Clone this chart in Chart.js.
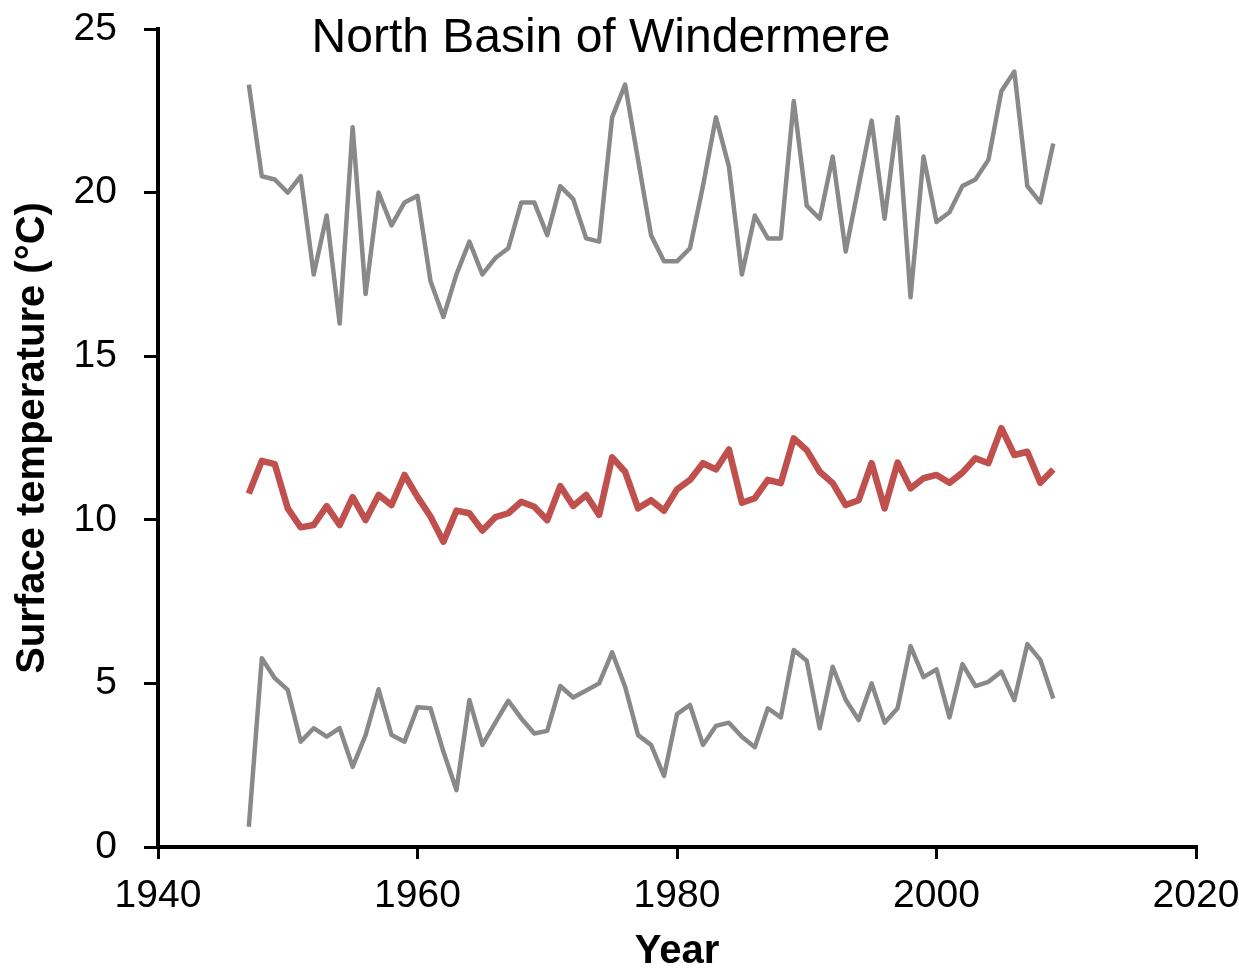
<!DOCTYPE html>
<html>
<head>
<meta charset="utf-8">
<script src="https://cdn.jsdelivr.net/npm/chart.js@4.4.1/dist/chart.umd.min.js"></script>
<style>
  html, body { margin: 0; padding: 0; background: #fff; }
  canvas { display: block; }
</style>
</head>
<body>
<canvas id="chart" width="1239" height="972"></canvas>
<script>
const years = [
  1947, 1948, 1949, 1950, 1951, 1952, 1953, 1954, 1955, 1956,
  1957, 1958, 1959, 1960, 1961, 1962, 1963, 1964, 1965, 1966,
  1967, 1968, 1969, 1970, 1971, 1972, 1973, 1974, 1975, 1976,
  1977, 1978, 1979, 1980, 1981, 1982, 1983, 1984, 1985, 1986,
  1987, 1988, 1989, 1990, 1991, 1992, 1993, 1994, 1995, 1996,
  1997, 1998, 1999, 2000, 2001, 2002, 2003, 2004, 2005, 2006,
  2007, 2008, 2009,
];

// annual maximum, mean and minimum surface temperature (°C)
const maxTemp = [
  23.3, 20.5, 20.4, 20.0, 20.5, 17.5, 19.3, 16.0, 22.0, 16.9,
  20.0, 19.0, 19.7, 19.9, 17.3, 16.2, 17.5, 18.5, 17.5, 18.0,
  18.3, 19.7, 19.7, 18.7, 20.2, 19.8, 18.6, 18.5, 22.3, 23.3,
  21.0, 18.7, 17.9, 17.9, 18.3, 20.2, 22.3, 20.8, 17.5, 19.3,
  18.6, 18.6, 22.8, 19.6, 19.2, 21.1, 18.2, 20.2, 22.2, 19.2,
  22.3, 16.8, 21.1, 19.1, 19.4, 20.2, 20.4, 21.0, 23.1, 23.7,
  20.2, 19.7, 21.5,
];
const meanTemp = [
  10.8, 11.8, 11.7, 10.35, 9.77, 9.84, 10.42, 9.84, 10.69, 9.99,
  10.76, 10.45, 11.37, 10.7, 10.1, 9.33, 10.28, 10.2, 9.67, 10.08,
  10.2, 10.55, 10.4, 9.99, 11.03, 10.42, 10.76, 10.15, 11.91, 11.47,
  10.35, 10.6, 10.28, 10.93, 11.22, 11.73, 11.54, 12.15, 10.52, 10.66,
  11.22, 11.12, 12.49, 12.13, 11.47, 11.12, 10.45, 10.6, 11.73, 10.35,
  11.75, 10.96, 11.27, 11.37, 11.13, 11.44, 11.88, 11.73, 12.8, 11.98,
  12.08, 11.13, 11.54,
];
const minTemp = [
  0.62, 5.77, 5.16, 4.8, 3.22, 3.63, 3.37, 3.63, 2.45, 3.42,
  4.82, 3.42, 3.22, 4.27, 4.24, 2.91, 1.74, 4.49, 3.12, 3.8,
  4.47, 3.93, 3.47, 3.55, 4.92, 4.57, 4.78, 5.0, 5.95, 4.9,
  3.42, 3.12, 2.17, 4.06, 4.34, 3.12, 3.7, 3.8, 3.37, 3.05,
  4.24, 3.96, 6.02, 5.69, 3.63, 5.51, 4.5, 3.88, 5.0, 3.8,
  4.24, 6.14, 5.19, 5.43, 3.96, 5.59, 4.92, 5.05, 5.36, 4.49,
  6.2, 5.72, 4.54,
];

const xTicks = [1940, 1960, 1980, 2000, 2020];
const yTicks = [0, 5, 10, 15, 20, 25];

const FONT = "'Liberation Sans', Arial, sans-serif";

function points(values) {
  return years.map((yr, i) => ({ x: yr, y: values[i] }));
}

function line(values, color, width) {
  return {
    data: points(values),
    borderColor: color,
    borderWidth: width,
    pointRadius: 0,
    tension: 0,
    fill: false,
    borderJoinStyle: "round",
  };
}

// title sits inside the plot area, like the original
const innerTitle = {
  id: "innerTitle",
  afterDraw(chart, args, opts) {
    const ctx = chart.ctx;
    ctx.save();
    ctx.fillStyle = "#000";
    ctx.font = `48px ${FONT}`;
    ctx.textAlign = "center";
    ctx.textBaseline = "middle";
    ctx.fillText(opts.text, opts.x, opts.y);
    ctx.restore();
  },
};

// let layout.padding alone decide the plot area edges
function noLabelPadding(s) {
  s.paddingTop = 0;
  s.paddingBottom = 0;
  s.paddingLeft = 0;
  s.paddingRight = 0;
}

new Chart(document.getElementById("chart"), {
  type: "line",
  data: {
    datasets: [
      line(maxTemp, "#898989", 4.5),
      line(meanTemp, "#c0504d", 6.5),
      line(minTemp, "#898989", 4.5),
    ],
  },
  options: {
    responsive: false,
    animation: false,
    devicePixelRatio: 1,
    layout: { padding: { top: 29, right: 43, bottom: 0, left: 0 } },
    plugins: {
      legend: { display: false },
      tooltip: { enabled: false },
      innerTitle: { text: "North Basin of Windermere", x: 601, y: 39 },
    },
    scales: {
      x: {
        type: "linear",
        min: 1940,
        max: 2020,
        afterBuildTicks: (s) => { s.ticks = xTicks.map((v) => ({ value: v })); },
        afterFit: (s) => { s.height = 125; noLabelPadding(s); },
        grid: { drawOnChartArea: false, color: "#000", lineWidth: 3, tickLength: 12 },
        border: { display: true, color: "#000", width: 4 },
        ticks: {
          color: "#000",
          font: { family: FONT, size: 39 },
          padding: 14,
          maxRotation: 0,
          callback: (v) => String(v),
        },
        title: {
          display: true,
          text: "Year",
          color: "#000",
          font: { family: FONT, size: 40, weight: "bold", lineHeight: 1 },
          padding: { top: 0, bottom: 0 },
        },
      },
      y: {
        min: 0,
        max: 25,
        afterBuildTicks: (s) => { s.ticks = yTicks.map((v) => ({ value: v })); },
        afterFit: (s) => { s.width = 158; noLabelPadding(s); },
        grid: { drawOnChartArea: false, color: "#000", lineWidth: 3, tickLength: 14 },
        border: { display: true, color: "#000", width: 4 },
        ticks: { color: "#000", font: { family: FONT, size: 39 }, padding: 27 },
        title: {
          display: true,
          text: "Surface temperature (°C)",
          color: "#000",
          font: { family: FONT, size: 40, weight: "bold", lineHeight: 1 },
          padding: { top: 13, bottom: 0 },
        },
      },
    },
  },
  plugins: [innerTitle],
});
</script>
</body>
</html>
